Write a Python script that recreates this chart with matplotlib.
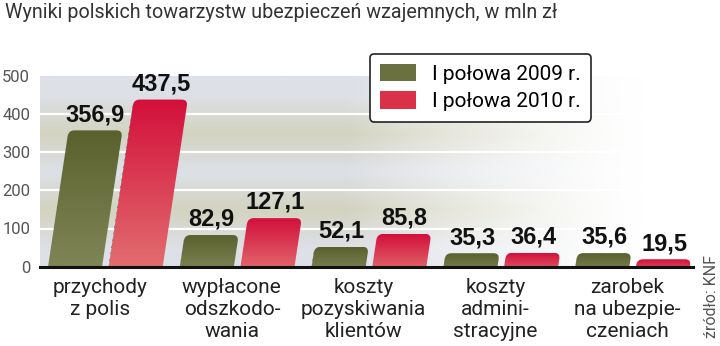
import numpy as np
import matplotlib
matplotlib.use("Agg")
import matplotlib.pyplot as plt
from matplotlib.patches import FancyBboxPatch, Patch
from matplotlib.transforms import Affine2D
from matplotlib.colors import to_rgb

categories = ["przychody\nz polis", "wypłacone\nodszkodo-\nwania",
              "koszty\npozyskiwania\nklientów", "koszty\nadmini-\nstracyjne",
              "zarobek\nna ubezpie-\nczeniach"]
h1_2009 = [356.9, 82.9, 52.1, 35.3, 35.6]
h1_2010 = [437.5, 127.1, 85.8, 36.4, 19.5]
labels_2009 = ["356,9", "82,9", "52,1", "35,3", "35,6"]
labels_2010 = ["437,5", "127,1", "85,8", "36,4", "19,5"]
series_names = ["I połowa 2009 r.", "I połowa 2010 r."]
yticks = [0, 100, 200, 300, 400, 500]

light = "Roboto"
bold = "Liberation Sans"

W, H = 720, 346
fig = plt.figure(figsize=(W / 100, H / 100), dpi=100)
ax = fig.add_axes([40 / W, 79.3 / H, 653 / W, 191 / H])
XMIN, XMAX = -0.496, 4.458
ax.set_xlim(XMIN, XMAX)
ax.set_ylim(0, 500)

# background bands fading out to the right
band_a = np.array(to_rgb("#dde0e7"))
band_b = np.array(to_rgb("#d3d3c0"))
xs = np.linspace(0, 1, 300)
fade = np.clip((0.92 - xs) / 0.45, 0, 1) ** 1.3
bg = np.zeros((5, len(xs), 3))
for r in range(5):
    c = band_a if r % 2 == 0 else band_b
    bg[r] = 1 - fade[:, None] * (1 - c)
ax.imshow(bg, extent=(XMIN, XMAX, 0, 500), origin="lower", aspect="auto",
          interpolation="bilinear", zorder=0)
for y in yticks[1:-1]:
    ax.axhline(y, color="white", lw=1.6, zorder=1)

# slant of the bars: 0.15 px right for every px up
px_x = 653 / (XMAX - XMIN)
px_y = 191 / 500
shear = 0.15 * px_y / px_x
slant = Affine2D().skew(np.arctan(shear), 0) + ax.transData

x = np.arange(len(categories))
width = 0.41
off = 0.23
grad_cols = {
    0: ("#5a612e", "#828759"),
    1: ("#d3103b", "#e27171"),
}
rx = 0.045
aspect = (6 / px_y) / rx

for k, (vals, offset) in enumerate([(h1_2009, -off), (h1_2010, off)]):
    bars = ax.bar(x + offset, vals, width, color=grad_cols[k][0], zorder=2)
    top, bot = (np.array(to_rgb(c)) for c in grad_cols[k])
    for b in bars:
        bx, bw, bh = b.get_x(), b.get_width(), b.get_height()
        b.set_visible(False)
        shape = FancyBboxPatch((bx, -20), bw, bh + 20,
                               boxstyle=f"round,pad=0,rounding_size={rx}",
                               mutation_aspect=aspect, facecolor="none",
                               edgecolor="none", transform=slant)
        ax.add_patch(shape)
        t = np.linspace(0, 1, 64)[:, None]
        img = (bot + (top - bot) * t)[:, None, :].repeat(2, axis=1)
        im = ax.imshow(img, extent=(bx, bx + bw, -20, bh), origin="lower",
                       aspect="auto", transform=slant, zorder=2,
                       interpolation="bilinear")
        im.set_clip_path(shape)

ax.set_xlim(XMIN, XMAX)
ax.set_ylim(0, 500)

# value labels above the slanted tops
for vals, labs, offset in [(h1_2009, labels_2009, -off), (h1_2010, labels_2010, off)]:
    for xi, v, lab in zip(x, vals, labs):
        ax.annotate(lab, (xi + offset + shear * v, v), xytext=(0, 3),
                    textcoords="offset points", ha="center", va="bottom",
                    fontsize=17, fontweight="bold", family=bold,
                    color="#111111", annotation_clip=False, zorder=4)

ax.axhline(0, color="#111111", lw=2.2, zorder=3, clip_on=False)

for s in ax.spines.values():
    s.set_visible(False)
ax.set_yticks(yticks)
ax.set_yticklabels([str(v) for v in yticks], family=light, fontsize=12,
                   color="#555555")
ax.tick_params(axis="y", length=0, pad=7)
ax.set_xticks(x - 0.04)
ax.set_xticklabels(categories, family=light, fontsize=15, color="#222222",
                   linespacing=1.2)
ax.tick_params(axis="x", length=0, pad=8)

handles = [Patch(facecolor="#6a7040", edgecolor="none"),
           Patch(facecolor="#da3048", edgecolor="none")]
leg = ax.legend(handles, series_names, loc="upper left",
                bbox_to_anchor=(0.505, 1.115), frameon=True, fancybox=True,
                prop={"family": light, "size": 15}, handlelength=1.7,
                handleheight=0.9, handletextpad=0.8, labelspacing=0.35,
                borderpad=0.5, borderaxespad=0)
frame = leg.get_frame()
frame.set_edgecolor("#222222")
frame.set_linewidth(1.2)
frame.set_facecolor("white")
frame.set_alpha(1)

fig.text(5 / W, 1 - 13 / H, "Wyniki polskich towarzystw ubezpieczeń wzajemnych, w mln zł",
         family=light, fontsize=14.2, color="#333333", va="center", ha="left")
fig.text(712 / W, 1 - 296 / H, "źródło: KNF", family=light, fontsize=11.5,
         color="#555555", rotation=90, va="center", ha="center")

fig.savefig("out.png", dpi=100)
